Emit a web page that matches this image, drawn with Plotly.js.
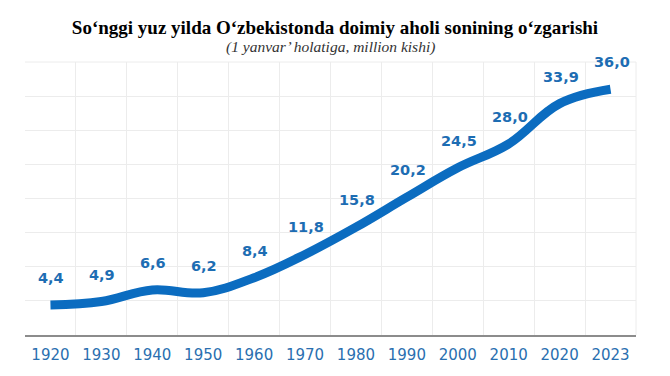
<!DOCTYPE html>
<html><head><meta charset="utf-8">
<script src="https://cdn.plot.ly/plotly-3.0.1.min.js"></script>
<style>html,body{margin:0;padding:0;background:#fff}#c{width:670px;height:376px}</style>
</head><body><div id="c"></div>
<script>
const years = ["1920","1930","1940","1950","1960","1970","1980","1990","2000","2010","2020","2023"];
const population = [4.4, 4.9, 6.6, 6.2, 8.4, 11.8, 15.8, 20.2, 24.5, 28.0, 33.9, 36.0];
const labels = population.map(v => v.toFixed(1).replace('.', ','));

const lineColor = '#0b6cc0';
const labelColor = '#1d6db3';

const trace = {
  x: years, y: population, type: 'scatter', mode: 'lines',
  line: {color: lineColor, width: 9, shape: 'spline', smoothing: 1.1},
  hoverinfo: 'skip'
};

const annotations = years.map((yr, i) => ({
  x: i, y: population[i], xref: 'x', yref: 'y',
  text: '<b>' + labels[i] + '</b>', showarrow: false,
  yshift: 27, xshift: 1, font: {family: 'Verdana, DejaVu Sans, sans-serif', size: 14.5, color: labelColor}
}));
annotations.push({
  xref: 'paper', yref: 'paper', x: 0.5, y: 1, yshift: 4, yanchor: 'bottom', showarrow: false,
  text: '<i>(1 yanvar’ holatiga, million kishi)</i>',
  font: {family: 'Liberation Serif, serif', size: 15.5, color: '#333'}
});

const layout = {
  width: 670, height: 376,
  margin: {l: 25, r: 34, t: 62, b: 41},
  paper_bgcolor: '#fff', plot_bgcolor: '#fff',
  title: {text: '<b>So‘nggi yuz yilda O‘zbekistonda doimiy aholi sonining o‘zgarishi</b>',
    font: {family: 'Liberation Serif, serif', size: 19, color: '#000'},
    x: 0.5, xanchor: 'center', y: 0.928, yanchor: 'middle'},
  xaxis: {type: 'category', tickson: 'boundaries', showgrid: true, gridcolor: '#ececec', gridwidth: 1,
    ticks: '', showline: true, linecolor: '#8c8c8c', linewidth: 1.5, ticklabelstandoff: 5,
    tickfont: {family: 'Verdana, DejaVu Sans, sans-serif', size: 15, color: '#2a6fb0'},
    range: [-0.5, 11.5], fixedrange: true, zeroline: false},
  yaxis: {range: [0, 40], dtick: 5, tick0: 0, showgrid: true, gridcolor: '#ececec', gridwidth: 1,
    showticklabels: false, ticks: '', zeroline: false, showline: false, fixedrange: true},
  shapes: [{type: 'line', xref: 'paper', yref: 'paper', x0: 1, x1: 1, y0: 0, y1: 1, line: {color: '#ececec', width: 1}},
           {type: 'line', xref: 'paper', yref: 'paper', x0: 0, x1: 1, y0: 1, y1: 1, line: {color: '#ececec', width: 1}}],
  annotations: annotations,
  showlegend: false
};

Plotly.newPlot('c', [trace], layout, {displayModeBar: false, staticPlot: true});
</script></body></html>
